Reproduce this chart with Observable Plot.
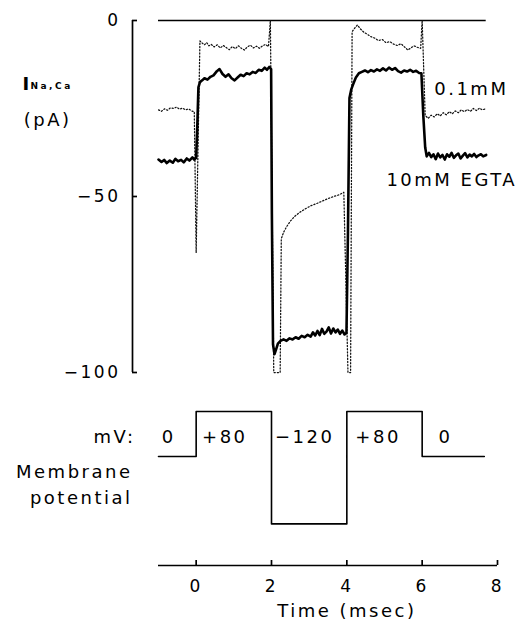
<!DOCTYPE html>
<html><head><meta charset="utf-8">
<script src="https://cdn.jsdelivr.net/npm/d3@7"></script>
<script src="https://cdn.jsdelivr.net/npm/@observablehq/plot@0.6"></script>
<style>
body{margin:0;background:#fff;}
#chart{width:527px;height:622px;}
#chart svg{display:block;}
</style></head><body><div id="chart"></div>
<script>
// ---- current traces (pA) vs time (msec) ----
const egtaT = [-1.00,-0.92,-0.85,-0.78,-0.70,-0.62,-0.55,-0.48,-0.40,-0.33,-0.25,-0.18,-0.10,-0.05,0.00,0.03,0.06,0.10,0.16,0.22,0.30,0.38,0.46,0.55,0.62,0.70,0.78,0.86,0.94,1.02,1.10,1.18,1.26,1.34,1.42,1.50,1.58,1.66,1.74,1.82,1.88,1.94,1.99,2.01,2.04,2.08,2.12,2.17,2.24,2.32,2.40,2.48,2.56,2.64,2.72,2.80,2.88,2.96,3.04,3.10,3.16,3.22,3.28,3.34,3.40,3.46,3.52,3.58,3.64,3.70,3.76,3.82,3.88,3.94,3.99,4.03,4.07,4.12,4.18,4.24,4.32,4.40,4.48,4.56,4.64,4.72,4.80,4.88,4.96,5.04,5.12,5.20,5.28,5.36,5.44,5.52,5.60,5.68,5.76,5.84,5.92,5.98,6.03,6.08,6.12,6.18,6.24,6.30,6.36,6.42,6.48,6.54,6.60,6.66,6.72,6.78,6.84,6.90,6.96,7.02,7.08,7.14,7.20,7.26,7.32,7.38,7.44,7.50,7.56,7.62,7.70];
const egtaI = [-39.5,-40.2,-39.6,-40.5,-39.8,-40.4,-39.3,-40.0,-39.6,-40.3,-39.2,-39.8,-38.9,-39.5,-39.0,-30,-19,-17.5,-17.0,-16.4,-16.8,-16.0,-15.6,-14.4,-13.8,-15.2,-16.0,-15.3,-16.4,-17.0,-16.2,-15.4,-15.8,-15.0,-15.3,-14.6,-14.9,-14.0,-14.3,-13.4,-14.0,-13.2,-13.8,-55,-92,-94.8,-93.5,-91.8,-91.0,-90.6,-91.0,-90.3,-90.6,-90.0,-90.4,-89.6,-90.0,-89.3,-89.8,-88.6,-89.5,-88.2,-89.4,-87.6,-89.0,-88.4,-87.2,-88.9,-87.5,-88.6,-87.8,-89.0,-88.1,-89.2,-88.8,-60,-22,-19.5,-17.8,-16.2,-15.0,-14.6,-14.2,-14.7,-14.1,-14.5,-13.9,-14.3,-13.6,-14.2,-13.4,-14.0,-13.5,-14.4,-14.8,-14.2,-14.5,-14.0,-14.6,-14.3,-14.9,-15.0,-27,-36,-38.6,-37.6,-38.8,-38.0,-39.4,-37.8,-38.9,-38.2,-39.5,-38.0,-38.7,-37.6,-39.0,-38.3,-37.8,-39.2,-38.4,-37.7,-38.9,-38.1,-38.6,-37.9,-38.8,-38.3,-38.0,-38.6,-38.2];

const lowT = [-1.00,-0.92,-0.84,-0.76,-0.68,-0.60,-0.52,-0.44,-0.36,-0.28,-0.20,-0.12,-0.05,0.00,0.10,0.16,0.22,0.28,0.34,0.40,0.48,0.56,0.64,0.72,0.80,0.88,0.96,1.04,1.12,1.20,1.28,1.36,1.44,1.52,1.60,1.68,1.76,1.84,1.92,1.97,2.06,2.23,2.26,2.32,2.40,2.50,2.62,2.75,2.90,3.05,3.20,3.35,3.50,3.65,3.80,3.92,4.03,4.10,4.14,4.22,4.28,4.36,4.45,4.54,4.64,4.74,4.84,4.94,5.04,5.14,5.24,5.34,5.44,5.54,5.62,5.70,5.78,5.87,5.96,6.00,6.08,6.16,6.24,6.32,6.40,6.48,6.56,6.64,6.72,6.80,6.88,6.96,7.04,7.12,7.20,7.28,7.36,7.44,7.52,7.60,7.70];
const lowI = [-25.4,-25.8,-25.1,-25.5,-24.8,-25.0,-24.6,-25.2,-24.9,-25.4,-25.1,-25.7,-25.9,-66,-5.8,-6.4,-6.9,-6.3,-7.2,-6.8,-7.5,-6.9,-7.8,-7.1,-7.7,-8.3,-7.4,-8.0,-7.2,-7.9,-8.4,-7.5,-7.0,-7.8,-7.3,-7.9,-7.2,-6.8,-7.4,0,-100,-100,-62,-60.2,-58.6,-57.0,-55.6,-54.5,-53.5,-52.6,-52.0,-51.3,-50.6,-50.0,-49.5,-48.8,-100,-100,-3.2,-2.0,-1.3,-2.4,-3.3,-3.9,-4.6,-5.0,-5.7,-5.4,-6.3,-6.0,-6.7,-7.1,-6.6,-7.6,-8.4,-7.8,-7.2,-7.6,-7.9,0,-27,-27.8,-26.9,-27.4,-26.5,-27.1,-26.2,-26.8,-25.9,-26.5,-25.7,-26.2,-25.4,-25.9,-25.3,-25.8,-25.0,-25.6,-24.9,-25.4,-25.0];

const currentTicks = [0, -50, -100];
const traceLabels = ["0.1mM", "10mM EGTA"];
const traceLabelT = [6.32, 5.05];
const traceLabelI = [-19.6, -45.5];

// ---- membrane potential protocol ----
const stepT = [-1, 0, 2, 4, 6, 7.65];
const stepMV = [0, 80, -120, 80, 0, 0];
const stepLabels = ["0", "+80", "\u2212120", "+80", "0"];
const stepLabelT = [-0.73, 0.76, 2.88, 4.83, 6.62];
const stepLabelMV = 34;
const timeTicks = [0, 2, 4, 6, 8];

const xDomain = [-1, 8];
const iDomain = [-100, 0];
const vDomain = [-194, 80];

const egta = egtaT.map((t, i) => ({t, i: egtaI[i]}));
const low = lowT.map((t, i) => ({t, i: lowI[i]}));
const steps = stepT.map((t, i) => ({t, v: stepMV[i]}));
const fmt = d => d < 0 ? "\u2212" + Math.abs(d) : String(d);

const baseStyle = {fontFamily: "DejaVu Sans", fontSize: "18px", letterSpacing: "2.5px", color: "#000", background: "#fff", overflow: "visible"};

// top frame: x 158..497, y 20..372
const topPlot = Plot.plot({
  width: 527, height: 390,
  marginLeft: 158, marginRight: 30, marginTop: 20, marginBottom: 18,
  x: {domain: xDomain, axis: null},
  y: {domain: iDomain, axis: null},
  style: baseStyle,
  marks: [
    Plot.axisY(currentTicks, {anchor: "left", tickSize: 0, dx: -26, tickPadding: 12, fontSize: 17, tickFormat: fmt, label: null}),
    Plot.ruleY([0], {x1: egtaT[0], x2: egtaT[egtaT.length - 1], strokeWidth: 1.6, stroke: "black"}),
    Plot.line(low, {x: "t", y: "i", stroke: "#111", strokeWidth: 1.25, strokeDasharray: "1.2,2"}),
    Plot.line(egta, {x: "t", y: "i", stroke: "black", strokeWidth: 2.6, strokeLinejoin: "round"}),
    Plot.text(traceLabels, {x: (d, k) => traceLabelT[k], y: (d, k) => traceLabelI[k], textAnchor: "start", lineAnchor: "middle", fill: "black"}),
    Plot.text(["I"], {frameAnchor: "left", y: -18.2, dx: -136, textAnchor: "start", lineAnchor: "middle", fontWeight: "bold", fill: "black"}),
    Plot.text(["Na,Ca"], {frameAnchor: "left", y: -18.6, dx: -128, textAnchor: "start", lineAnchor: "middle", fontSize: 9, fontWeight: "bold", fill: "black"}),
    Plot.text(["(pA)"], {frameAnchor: "left", y: -28.4, dx: -134.7, textAnchor: "start", lineAnchor: "middle", fill: "black"}),
    Plot.ruleX([xDomain[0]], {y1: iDomain[0], y2: iDomain[1], dx: -26, strokeWidth: 1.7, stroke: "black"}),
    Plot.tickY(currentTicks, {dx: -26, insetRight: 334, strokeWidth: 1.7, stroke: "black"})
  ]
});

// bottom frame: x 158..497, y 21..175 (local)
const bottomPlot = Plot.plot({
  width: 527, height: 232,
  marginLeft: 158, marginRight: 30, marginTop: 21, marginBottom: 57,
  x: {domain: xDomain, axis: null},
  y: {domain: vDomain, axis: null},
  style: baseStyle,
  marks: [
    Plot.axisX(timeTicks, {anchor: "bottom", tickSize: 0, tickPadding: 14, fontSize: 17, label: null}),
    Plot.line(steps, {x: "t", y: "v", curve: "step-after", strokeWidth: 1.6, stroke: "black"}),
    Plot.text(stepLabels, {x: (d, k) => stepLabelT[k], y: stepLabelMV, textAnchor: "middle", lineAnchor: "middle", fill: "black"}),
    Plot.text(["mV:"], {frameAnchor: "left", y: stepLabelMV, dx: -23, textAnchor: "end", lineAnchor: "middle", fill: "black"}),
    Plot.text(["Membrane\npotential"], {frameAnchor: "left", y: -46, dx: -26, textAnchor: "end", lineAnchor: "middle", lineHeight: 1.45, fill: "black"}),
    Plot.text(["Time (msec)"], {x: timeTicks[2], frameAnchor: "bottom", dy: 45.5, textAnchor: "middle", lineAnchor: "middle", fill: "black"}),
    Plot.ruleY([vDomain[0]], {x1: xDomain[0], x2: xDomain[1], strokeWidth: 1.7, stroke: "black"}),
    Plot.tickX(timeTicks, {insetTop: 149, strokeWidth: 1.7, stroke: "black"})
  ]
});

const chart = document.getElementById("chart");
chart.appendChild(topPlot);
chart.appendChild(bottomPlot);
</script>
</body></html>
